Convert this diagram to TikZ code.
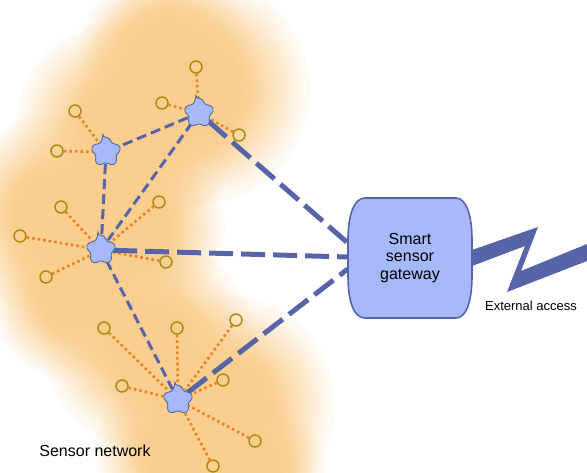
\documentclass[tikz,border=0pt]{standalone}
\usepackage{fontspec}
\setmainfont{Liberation Sans}
\usetikzlibrary{fadings}

\definecolor{hubfill}{RGB}{166,185,250}
\definecolor{linkblue}{RGB}{88,100,168}
\definecolor{feedorange}{RGB}{233,133,38}
\definecolor{leafolive}{RGB}{168,138,12}
\definecolor{glow}{RGB}{250,206,142}

%soft blob: small core, long smooth rim
\begin{tikzfadingfrompicture}[name=glowfade]
\foreach \k in {0,...,30}{
	\pgfmathsetmacro\s{\k/30}
	\pgfmathtruncatemacro\t{100-100*\s*\s*(3-2*\s)}
	\fill[transparent!\t] (0,0) circle ({1-0.7*\s});
}
\end{tikzfadingfrompicture}

\tikzset{
	hub/.style={circle, minimum size=24pt, inner sep=0pt},
	cog/.style={fill=hubfill, draw=linkblue, line width=0.9pt, rounded corners=3pt},
	leaf/.style={circle, minimum size=12pt, inner sep=0pt, draw=leafolive, line width=1.4pt},
	feed/.style={feedorange, line width=2.6pt, dash pattern=on 2.6pt off 3pt},
	meshlink/.style={linkblue, line width=3pt, dash pattern=on 10pt off 5pt},
	uplink/.style={linkblue, line width=5pt, dash pattern=on 24pt off 8pt},
}

\begin{document}
\begin{tikzpicture}[x=1pt,y=-1pt]
\fill[white] (0,0) rectangle (587,473);
\useasboundingbox (0,0) rectangle (587,473);

%orange glow behind the network
\foreach \x/\y/\r in {195/90/115,125/130/110,165/55/85,55/215/100,75/295/85,130/230/95,150/345/105,225/405/110,180/450/85,255/470/70}{
	\fill[glow, path fading=glowfade] (\x,\y) circle (\r pt);
}

%gateway body
\filldraw[fill=hubfill, draw=linkblue, line width=1.6pt] (365,198) -- (456,198) .. controls (466,198) and (472,215) .. (472,240) -- (472,276) .. controls (472,302) and (466,318) .. (456,318) -- (365,318) .. controls (354,318) and (348,302) .. (348,276) -- (348,240) .. controls (348,215) and (354,198) .. (365,198) -- cycle;

%hubs
\node[hub] (h1) at (199,113) {};
\node[hub] (h2) at (106,152) {};
\node[hub] (h3) at (101,250) {};
\node[hub] (h4) at (178,400) {};

%gateway label
\node[align=center, font=\fontsize{16}{17.5}\selectfont, minimum width=124pt, minimum height=120pt, inner sep=0pt] (gw) at (410,258) {Smart\\sensor\\gateway};

%sensors and their dotted feeds
\foreach \x/\y/\h [count=\i] in {196/67/h1,162/103/h1,239/135/h1,75/111/h2,57/151/h2,61/207/h3,20/236/h3,159/202/h3,166/262/h3,46/277/h3,104/328/h4,177/328/h4,236/320/h4,122/386/h4,223/380/h4,255/441/h4,213/466/h4}{
	\node[leaf] (s\i) at (\x,\y) {};
	\draw[feed] (s\i) -- (\h);
}

%mesh links between hubs
\foreach \a/\b in {h1/h2,h1/h3,h2/h3,h3/h4}{
	\draw[meshlink] (\a) -- (\b);
}
%uplinks to gateway
\draw[uplink] (h1) -- ([yshift=15pt]gw.west);
\draw[uplink] (h3) -- ([yshift=1pt]gw.west);
\draw[uplink] (h4) -- ([yshift=-11pt]gw.west);

%star outlines on top of the hubs
\foreach \h in {h1,h2,h3,h4}{
	\begin{scope}[shift={(\h)}]
		\filldraw[cog] (-102:15) \foreach \a in {-90,-18,54,126,198}{ -- (\a-12:15) -- (\a+12:15) -- (\a+36:10)} -- cycle;
	\end{scope}
}

%external access bolt
\fill[linkblue] (472,250) -- (538,227) -- (521,271) -- (587,244) -- (587,261) -- (507,292) -- (525,246) -- (472,266) -- cycle;

%labels
\node[font=\fontsize{13}{15}\selectfont] (ext) at (531,306) {External access};
\node[font=\fontsize{16}{19}\selectfont] (netlabel) at (95,451) {Sensor network};
\end{tikzpicture}
\end{document}
